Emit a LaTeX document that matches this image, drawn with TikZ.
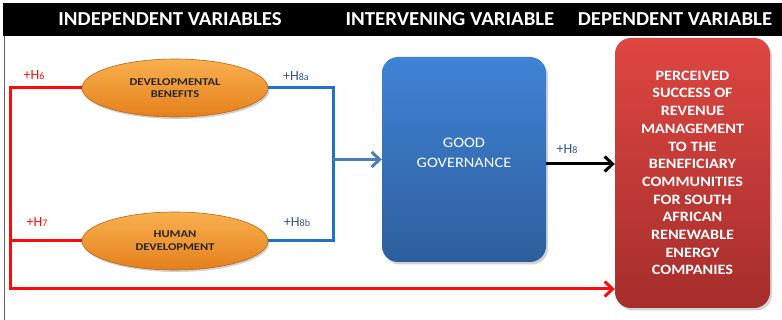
\documentclass[tikz,border=0pt]{standalone}
\usepackage{fontspec}
\setmainfont{Carlito}
\newfontfamily\hdrfont{Carlito}[FakeStretch=1.05]
\newfontfamily\ovalfont{Carlito}[FakeStretch=1.2]
\newfontfamily\boxfont{Carlito}[FakeStretch=1.13]
\usetikzlibrary{shapes.geometric,shadows,arrows.meta}
\definecolor{lnred}{HTML}{FF0A0A}
\definecolor{lnblue}{HTML}{1F72C4}
\definecolor{arblue}{HTML}{4A7EBB}
\definecolor{lblblue}{HTML}{2F5496}
\definecolor{orgtop}{HTML}{F9B04E}
\definecolor{orgbot}{HTML}{E4801C}
\definecolor{orgedge}{HTML}{B8681C}
\definecolor{ggtop}{HTML}{3F83D6}
\definecolor{ggbot}{HTML}{2E5E9C}
\definecolor{dvtop}{HTML}{DE4641}
\definecolor{dvbot}{HTML}{A52E2C}
\tikzset{
  hdr/.style={text=white, font=\hdrfont\bfseries\fontsize{19.8}{20}\selectfont, inner sep=0pt},
  oval/.style={ellipse, minimum width=186pt, minimum height=58pt, inner sep=0pt,
    top color=orgtop, bottom color=orgbot, draw=orgedge, line width=0.6pt,
    drop shadow={shadow xshift=1.5pt, shadow yshift=-2pt, opacity=0.35},
    align=center, text=black!85, font=\ovalfont\bfseries\fontsize{10.4}{12.7}\selectfont},
  bigbox/.style={rounded corners=16pt, inner sep=0pt, align=center, text=white,
    drop shadow={shadow xshift=2pt, shadow yshift=-2.5pt, opacity=0.35}},
  redln/.style={draw=lnred, line width=3pt},
  blueln/.style={draw=lnblue, line width=3pt},
  redlbl/.style={text=lnred, inner sep=0pt},
  bluelbl/.style={text=lblblue, inner sep=0pt},
  tip/.style={-{Straight Barb[length=8pt,width=15pt,line width=3pt]}}
}
\newcommand{\hyp}[1]{{\fontsize{14}{14}\selectfont +H}{\fontsize{10}{10}\selectfont #1}}
\begin{document}
\begin{tikzpicture}[x=1pt,y=-1pt]
\useasboundingbox (0,0) rectangle (782,320);
\fill[white] (0,0) rectangle (782,320);
\fill[black] (3,3) rectangle (782,36);
\draw[black!60, line width=1pt] (4,36) -- (4,320);
\node[hdr] (h1) at (170,19) {INDEPENDENT VARIABLES};
\node[hdr] (h2) at (450,19) {INTERVENING VARIABLE};
\node[hdr] (h3) at (675,19) {DEPENDENT VARIABLE};

\node[oval] (db) at (175,88) {DEVELOPMENTAL\\BENEFITS};
\node[oval] (hd) at (175,241) {HUMAN\\DEVELOPMENT};

\node[bigbox, minimum width=164pt, minimum height=205pt, top color=ggtop, bottom color=ggbot] (gg) at (464,159.5) {};
\node[text=white, align=center, inner sep=0pt, font=\boxfont\fontsize{14.5}{20}\selectfont] (ggt) at (464,153) {GOOD\\GOVERNANCE};
\node[bigbox, minimum width=155pt, minimum height=270pt, top color=dvtop, bottom color=dvbot,
  font=\boxfont\bfseries\fontsize{14.3}{17.7}\selectfont] (dv) at (692.5,173)
  {PERCEIVED\\SUCCESS OF\\REVENUE\\MANAGEMENT\\TO THE\\BENEFICIARY\\COMMUNITIES\\FOR SOUTH\\AFRICAN\\RENEWABLE\\ENERGY\\COMPANIES};

\coordinate (tl) at (10,88);
\coordinate (bl) at (10,289);
\coordinate (bx) at (333,160);
\coordinate (ga) at (546,164);

\draw[redln, tip] (db.west) -- (tl) -- (bl) -- (bl -| dv.west);
\draw[redln] (hd.west) -- (hd.west -| tl);
\draw[blueln] (db.east) -| (bx) |- (hd.east);
\draw[draw=arblue, line width=3pt, tip] (bx |- gg.west) -- (gg.west);
\draw[draw=black, line width=3pt, tip] (ga) -- (ga -| dv.west);

\node[redlbl] (l6) at (34,75) {\hyp{6}};
\node[redlbl] (l7) at (37,222) {\hyp{7}};
\node[bluelbl] (l8a) at (296,76) {\hyp{8a}};
\node[bluelbl] (l8b) at (297,222) {\hyp{8b}};
\node[bluelbl] (l8) at (567,149) {\hyp{8}};
\end{tikzpicture}
\end{document}
